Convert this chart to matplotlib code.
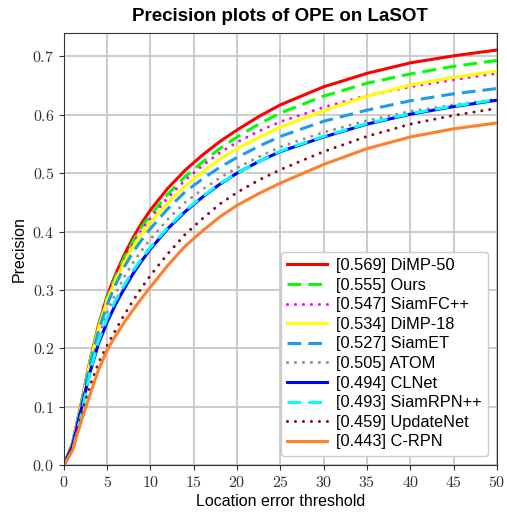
import matplotlib
matplotlib.use("Agg")
import matplotlib.pyplot as plt
from matplotlib.ticker import FuncFormatter

thresholds = [0, 1, 2, 3, 4, 5, 6, 7, 8, 9, 10, 12, 14, 16, 18, 20, 22.5, 25, 30, 35, 40, 45, 50]

names = ["[0.569] DiMP-50", "[0.555] Ours", "[0.547] SiamFC++", "[0.534] DiMP-18",
         "[0.527] SiamET", "[0.505] ATOM", "[0.494] CLNet", "[0.493] SiamRPN++",
         "[0.459] UpdateNet", "[0.443] C-RPN"]

dimp50 = [0, 0.038, 0.105, 0.178, 0.24, 0.29, 0.328, 0.361, 0.39, 0.415, 0.437, 0.474, 0.505, 0.531, 0.554, 0.574, 0.597, 0.617, 0.648, 0.671, 0.689, 0.701, 0.711]
ours = [0, 0.037, 0.104, 0.177, 0.238, 0.287, 0.324, 0.356, 0.384, 0.408, 0.428, 0.464, 0.494, 0.519, 0.542, 0.562, 0.584, 0.603, 0.632, 0.654, 0.670, 0.683, 0.693]
siamfcpp = [0, 0.036, 0.103, 0.176, 0.237, 0.285, 0.322, 0.353, 0.38, 0.403, 0.423, 0.458, 0.488, 0.513, 0.535, 0.553, 0.572, 0.588, 0.613, 0.633, 0.648, 0.660, 0.671]
dimp18 = [0, 0.036, 0.102, 0.175, 0.235, 0.282, 0.318, 0.348, 0.374, 0.396, 0.415, 0.449, 0.478, 0.502, 0.524, 0.542, 0.561, 0.579, 0.607, 0.632, 0.651, 0.664, 0.675]
siamet = [0, 0.035, 0.100, 0.172, 0.23, 0.275, 0.31, 0.34, 0.365, 0.386, 0.405, 0.439, 0.468, 0.49, 0.51, 0.527, 0.546, 0.563, 0.589, 0.608, 0.624, 0.636, 0.645]
atom = [0, 0.035, 0.098, 0.166, 0.22, 0.262, 0.295, 0.323, 0.347, 0.368, 0.387, 0.421, 0.45, 0.472, 0.492, 0.509, 0.528, 0.545, 0.570, 0.590, 0.606, 0.617, 0.627]
clnet = [0, 0.033, 0.095, 0.158, 0.208, 0.245, 0.276, 0.303, 0.328, 0.35, 0.37, 0.405, 0.434, 0.459, 0.481, 0.500, 0.520, 0.537, 0.562, 0.584, 0.601, 0.614, 0.625]
siamrpnpp = [0, 0.025, 0.085, 0.158, 0.213, 0.252, 0.283, 0.309, 0.333, 0.354, 0.373, 0.407, 0.436, 0.46, 0.482, 0.500, 0.520, 0.538, 0.563, 0.585, 0.602, 0.615, 0.626]
updatenet = [0, 0.030, 0.085, 0.135, 0.175, 0.205, 0.232, 0.258, 0.282, 0.304, 0.325, 0.362, 0.395, 0.422, 0.447, 0.467, 0.488, 0.506, 0.537, 0.563, 0.584, 0.599, 0.611]
crpn = [0, 0.025, 0.075, 0.12, 0.163, 0.197, 0.222, 0.245, 0.266, 0.286, 0.305, 0.342, 0.375, 0.401, 0.425, 0.445, 0.465, 0.483, 0.515, 0.542, 0.562, 0.576, 0.586]

series = [dimp50, ours, siamfcpp, dimp18, siamet, atom, clnet, siamrpnpp, updatenet, crpn]
colors = ["#ff0000", "#00ff00", "#ff00ff", "#ffff00", "#1f9be8", "#909090",
          "#0000ff", "#00ffff", "#8b0a1a", "#ff7f2a"]
dash = (0, (4.5, 2.3))
dot = (0, (0.01, 2.6))
styles = ["-", dash, dot, "-", dash, dot, "-", dash, dot, "-"]

plt.rcParams["mathtext.fontset"] = "cm"
plt.rcParams["font.family"] = ["Liberation Sans", "DejaVu Sans"]

fig = plt.figure(figsize=(5.07, 5.17), dpi=100)
ax = fig.add_axes([0.126, 0.1006, 0.854, 0.8354])

for vals, name, c, ls in zip(series, names, colors, styles):
    ax.plot(thresholds, vals, color=c, linestyle=ls, linewidth=2.2, label=name,
            dash_capstyle="round" if ls is dot else "butt")

ax.set_xlim(0, 50)
ax.set_ylim(0, 0.74)
ax.set_xticks(range(0, 51, 5))
ax.set_yticks([i / 10 for i in range(8)])
ax.xaxis.set_major_formatter(FuncFormatter(lambda v, p: "$%d$" % v))
ax.yaxis.set_major_formatter(FuncFormatter(lambda v, p: "$%.1f$" % v))
ax.tick_params(labelsize=11.5, colors="#333333", labelcolor="#333333")
ax.grid(True, color="#c8c8c8", linewidth=1.3)
ax.set_axisbelow(True)
for s in ax.spines.values():
    s.set_color("#333333")

ax.set_title("Precision plots of OPE on LaSOT", fontsize=13.5, fontweight="bold", pad=9)
ax.set_xlabel("Location error threshold", fontsize=11.5, labelpad=3)
ax.set_ylabel("Precision", fontsize=11.5, labelpad=4)

leg = ax.legend(loc="lower right", fontsize=11.8, handlelength=2.4, labelspacing=0.28,
                borderaxespad=0.55, framealpha=1, handletextpad=0.55)
leg.get_frame().set_edgecolor("#cccccc")

fig.savefig("out.png", dpi=100)
